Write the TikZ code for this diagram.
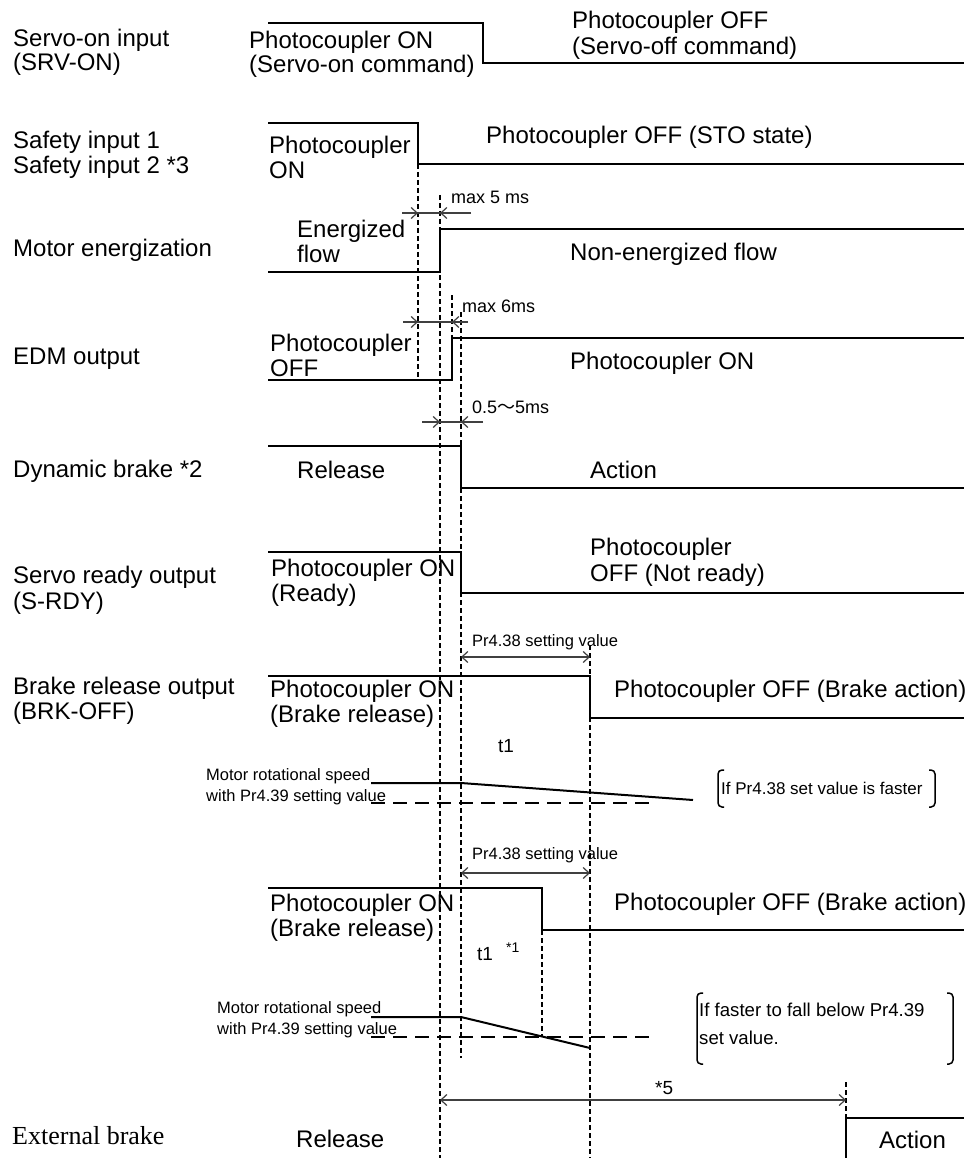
\documentclass[tikz,border=0pt]{standalone}
\usepackage{fontspec}
\setmainfont{Liberation Sans}
\newfontfamily\timesfont{Liberation Serif}
\newfontfamily\cjkfont{Noto Sans CJK JP}
\usepackage{tikz}
\usetikzlibrary{arrows.meta}
\tikzset{
  sig/.style={line width=2pt},
  guide/.style={line width=1.1pt, dash pattern=on 5pt off 3pt},
  dimline/.style={line width=1.2pt, draw=black!75},
  tip/.style={dimline, -{Straight Barb[length=6pt, width=11pt]}},
  twotip/.style={dimline, {Straight Barb[length=6pt, width=11pt]}-{Straight Barb[length=6pt, width=11pt]}},
  speed/.style={line width=2pt},
  limit/.style={line width=2pt, dash pattern=on 14pt off 8pt},
  brack/.style={line width=1.5pt, rounded corners=4pt},
  lbl/.style={anchor=base west, inner sep=0pt, font=\fontsize{24}{25}\selectfont},
  note/.style={anchor=base west, inner sep=0pt, font=\fontsize{18}{20}\selectfont},
  tinytext/.style={anchor=base west, inner sep=0pt, font=\fontsize{16.5}{18}\selectfont},
}

\begin{document}
\begin{tikzpicture}[x=1pt, y=-1pt]
  \useasboundingbox[fill=white] (0,0) rectangle (964,1158);

  % Signal names
  \node[lbl] (srvon) at (13,47) {Servo-on input};
  \node[lbl] (srvonb) at (13,71) {(SRV-ON)};
  \node[lbl] (safe) at (13,149) {Safety input 1};
  \node[lbl] (safeb) at (13,174) {Safety input 2 *3};
  \node[lbl] (motor) at (13,257) {Motor energization};
  \node[lbl] (edm) at (13,364) {EDM output};
  \node[lbl] (dynbrk) at (13,477) {Dynamic brake *2};
  \node[lbl] (srdy) at (13,583) {Servo ready output};
  \node[lbl] (srdyb) at (13,609) {(S-RDY)};
  \node[lbl] (brkoff) at (13,694) {Brake release output};
  \node[lbl] (brkoffb) at (13,719) {(BRK-OFF)};
  \node[lbl, font=\timesfont\fontsize{26}{28}\selectfont] (extbrk) at (12,1144) {External brake};

  % Servo-on input
  \draw[sig] (268,23) -- (483,23) -- (483,63) -- (964,63);
  \node[lbl] (srvonon) at (249,49) {Photocoupler ON};
  \node[lbl] (srvononb) at (249,73) {(Servo-on command)};
  \node[lbl] (srvonoff) at (572,29) {Photocoupler OFF};
  \node[lbl] (srvonoffb) at (572,55) {(Servo-off command)};

  % Safety input
  \draw[sig] (268,123) -- (418,123) -- (418,164) -- (964,164);
  \node[lbl] (safeon) at (269,154) {Photocoupler};
  \node[lbl] (safeonb) at (269,179) {ON};
  \node[lbl] (safeoff) at (486,144) {Photocoupler OFF (STO state)};

  % Motor energization
  \draw[sig] (268,272) -- (440,272) -- (440,229) -- (964,229);
  \node[lbl] (energ) at (297,237) {Energized};
  \node[lbl] (energb) at (297,262) {flow};
  \node[lbl] (nonenerg) at (570,261) {Non-energized flow};

  % EDM output
  \draw[sig] (268,380) -- (452,380) -- (452,338) -- (964,338);
  \node[lbl] (edmoff) at (270,351) {Photocoupler};
  \node[lbl] (edmoffb) at (270,376) {OFF};
  \node[lbl] (edmon) at (570,369) {Photocoupler ON};

  % Dynamic brake
  \draw[sig] (268,446) -- (461,446) -- (461,488) -- (964,488);
  \node[lbl] (dynrel) at (297,478) {Release};
  \node[lbl] (dynact) at (590,478) {Action};

  % Servo ready output
  \draw[sig] (268,552) -- (461,552) -- (461,593) -- (964,593);
  \node[lbl] (rdyon) at (271,576) {Photocoupler ON};
  \node[lbl] (rdyonb) at (271,601) {(Ready)};
  \node[lbl] (rdyoff) at (590,555) {Photocoupler};
  \node[lbl] (rdyoffb) at (590,581) {OFF (Not ready)};

  % Brake release output, case 1
  \draw[sig] (268,676) -- (590,676) -- (590,718) -- (964,718);
  \node[lbl] (brkon) at (270,697) {Photocoupler ON};
  \node[lbl] (brkonb) at (270,722) {(Brake release)};
  \node[lbl] (brkact) at (614,697) {Photocoupler OFF (Brake action)};

  % Brake release output, case 2
  \draw[sig] (268,888) -- (542,888) -- (542,930) -- (964,930);
  \node[lbl] (brkon2) at (270,911) {Photocoupler ON};
  \node[lbl] (brkon2b) at (270,936) {(Brake release)};
  \node[lbl] (brkact2) at (614,910) {Photocoupler OFF (Brake action)};

  % External brake
  \draw[sig] (846,1158) -- (846,1118) -- (964,1118);
  \node[lbl] (extrel) at (296,1147) {Release};
  \node[lbl] (extact) at (879,1148) {Action};

  % Timing guides
  \draw[guide] (418,164) -- (418,380);
  \draw[guide] (440,195) -- (440,1158);
  \draw[guide] (452,295) -- (452,338);
  \draw[guide] (461,312) -- (461,1058);
  \draw[guide] (590,645) -- (590,1158);
  \draw[guide] (542,930) -- (542,1037);
  \draw[guide] (846,1082) -- (846,1118);

  % Delays
  \draw[dimline] (402,213) -- (471,213);
  \draw[tip] (402,213) -- (418,213);
  \draw[tip] (471,213) -- (440,213);
  \node[note] (max5) at (451,204) {max 5 ms};
  \draw[dimline] (403,322) -- (468,322);
  \draw[tip] (403,322) -- (418,322);
  \draw[tip] (468,322) -- (452,322);
  \node[note] (max6) at (462,312) {max 6ms};
  \draw[dimline] (422,422) -- (483,422);
  \draw[tip] (422,422) -- (440,422);
  \draw[tip] (483,422) -- (461,422);
  \node[note] (dbdelay) at (472,413) {0.5{\cjkfont ～}5ms};

  % Pr4.38 spans
  \draw[twotip] (461,657) -- (590,657);
  \node[tinytext] (pr438) at (472,646) {Pr4.38 setting value};
  \draw[twotip] (461,873) -- (590,873);
  \node[tinytext] (pr438b) at (472,859) {Pr4.38 setting value};
  \node[lbl, font=\fontsize{19}{20}\selectfont] (tone) at (498,752) {t1};
  \node[lbl, font=\fontsize{19}{20}\selectfont] (tone2) at (477,960) {t1};
  \node[lbl, font=\fontsize{14}{15}\selectfont] (star1) at (506,952) {*1};

  % Motor speed, case 1
  \node[tinytext] (spd) at (206,780) {Motor rotational speed};
  \node[tinytext] (spdb) at (206,801) {with Pr4.39 setting value};
  \draw[speed] (371,783) -- (461,783) -- (693,800);
  \draw[limit] (371,803) -- (651,803);
  \draw[brack] (724,770) -- (718,770) -- (718,807) -- (724,807);
  \draw[brack] (929,770) -- (935,770) -- (935,807) -- (929,807);
  \node[tinytext, font=\fontsize{17}{19}\selectfont] (case1) at (721,794) {If Pr4.38 set value is faster};

  % Motor speed, case 2
  \node[tinytext] (spd2) at (217,1013) {Motor rotational speed};
  \node[tinytext] (spd2b) at (217,1034) {with Pr4.39 setting value};
  \draw[speed] (371,1017) -- (461,1017) -- (590,1048);
  \draw[limit] (371,1037) -- (651,1037);
  \draw[brack] (703,993) -- (697,993) -- (697,1064) -- (703,1064);
  \draw[brack] (947,993) -- (953,993) -- (953,1064) -- (947,1064);
  \node[tinytext, font=\fontsize{18.6}{20}\selectfont] (case2) at (699,1016) {If faster to fall below Pr4.39};
  \node[tinytext, font=\fontsize{18.6}{20}\selectfont] (case2b) at (699,1044) {set value.};

  % External brake delay
  \draw[twotip] (440,1100) -- (846,1100);
  \node[lbl, font=\fontsize{19}{20}\selectfont] (star5) at (655,1094) {*5};
\end{tikzpicture}
\end{document}
